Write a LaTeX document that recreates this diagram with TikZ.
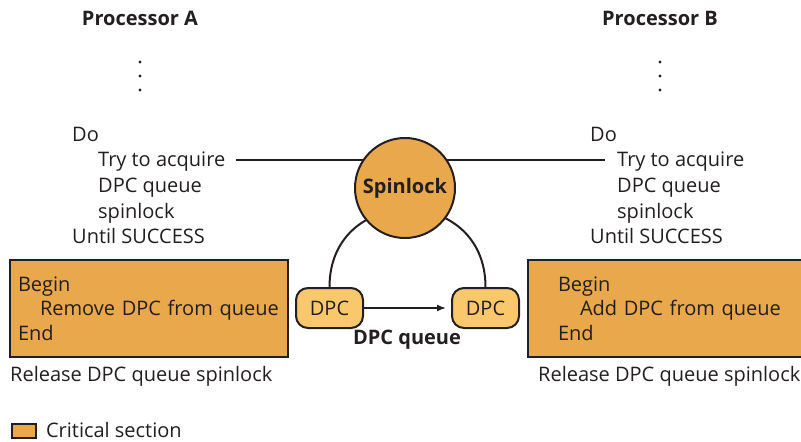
\documentclass[tikz,border=0pt]{standalone}
\usepackage{fontspec}
\setmainfont{Open Sans}
\usetikzlibrary{arrows.meta, positioning, backgrounds}
\definecolor{critorange}{HTML}{E8A84B}
\definecolor{dpcyellow}{HTML}{F9C86C}
\definecolor{inkgray}{HTML}{231F20}
\tikzset{
  txt/.style={anchor=west, inner sep=0pt, text height=16pt, text depth=4pt,
              font=\fontsize{20}{24.5}\selectfont, text=inkgray},
  head/.style={inner sep=0pt, font=\fontsize{20}{24.5}\selectfont\bfseries, text=inkgray},
  critbox/.style={rectangle, draw=inkgray, fill=critorange, line width=2.2pt,
                  minimum width=278pt, minimum height=97pt, align=left,
                  font=\fontsize{20}{24.5}\selectfont, text=inkgray},
  lockcirc/.style={circle, draw=inkgray, fill=critorange, line width=2pt,
                   minimum size=100pt, inner sep=0pt,
                   font=\fontsize{20}{24.5}\selectfont\bfseries, text=inkgray},
  dpcbox/.style={rectangle, rounded corners=12pt, draw=inkgray, fill=dpcyellow,
                 line width=2pt, minimum width=67pt, minimum height=40pt,
                 inner sep=0pt, font=\fontsize{20}{24.5}\selectfont, text=inkgray},
  link/.style={draw=inkgray, line width=2pt},
  arrow/.style={-{Latex[length=9pt,width=7pt]}, draw=inkgray, line width=1.6pt},
}
\begin{document}
\begin{tikzpicture}[x=1pt, y=1pt]
  \useasboundingbox (0,0) rectangle (801,-442);
  \node[head] (procA) at (140,-18) {Processor A};
  \node[head] (procB) at (660,-18) {Processor B};
  \foreach \x in {140, 660} {
    \foreach \y in {-62, -76, -90} {
      \fill[inkgray] (\x, \y) circle (1.6pt);
    }
  }
  \node[txt] (doA)    at (72,-135) {Do};
  \node[txt] (tryA)   at (98,-160) {Try to acquire};
  \node[txt] (queueA) at (98,-186) {DPC queue};
  \node[txt] (lockA)  at (98,-212) {spinlock};
  \node[txt] (untilA) at (72,-237) {Until SUCCESS};
  \node[txt] (doB)    at (590,-135) {Do};
  \node[txt] (tryB)   at (617,-160) {Try to acquire};
  \node[txt] (queueB) at (617,-186) {DPC queue};
  \node[txt] (lockB)  at (617,-212) {spinlock};
  \node[txt] (untilB) at (590,-237) {Until SUCCESS};
  \node[lockcirc] (spin) at (405,-188) {Spinlock};
  \node[critbox, inner xsep=8pt, text width=262pt] (critA) at (149,-308.5)
    {Begin\\\hspace*{22pt}Remove DPC from queue\\End};
  \node[critbox, inner xsep=30pt, text width=240pt] (critB) at (678,-308.5)
    {Begin\\\hspace*{22pt}Add DPC from queue\\End};
  \node[txt] (relA) at (10,-375) {Release DPC queue spinlock};
  \node[txt] (relB) at (538,-375) {Release DPC queue spinlock};
  \node[dpcbox] (dpcL) at (329.5,-308) {DPC};
  \node[dpcbox] (dpcR) at (485.5,-308) {DPC};
  \draw[arrow, shorten >=5pt] (dpcL) -- (dpcR);
  \node[head] (queue) at (407,-340) {DPC queue};
  \node[rectangle, draw=inkgray, fill=critorange, line width=1.8pt,
        minimum width=24pt, minimum height=14pt, inner sep=0pt] (legbox) at (24,-431) {};
  \node[txt, right=9pt of legbox] (legtxt) {Critical section};
  \begin{scope}[on background layer]
    \draw[link] ([xshift=11pt]tryA.east) -- ([xshift=11pt]tryA.east -| spin.center);
    \draw[link] ([xshift=-12pt]tryB.west -| spin.center) -- ([xshift=-12pt]tryB.west);
    \draw[link] (dpcL.north) to[out=90, in=90, looseness=1.7] (dpcR.north);
  \end{scope}
\end{tikzpicture}
\end{document}
